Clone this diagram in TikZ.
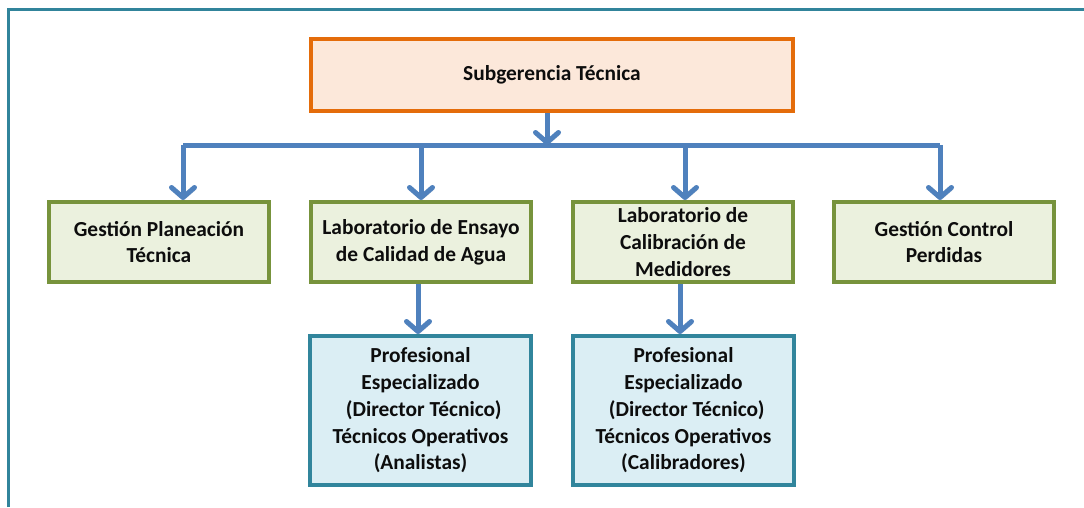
\documentclass[tikz,border=0pt]{standalone}
\usepackage{fontspec}
\setmainfont{Carlito}
\usetikzlibrary{arrows.meta}
\definecolor{frameC}{HTML}{31849B}
\definecolor{orangeC}{HTML}{E46C0A}
\definecolor{orangeF}{HTML}{FCE8DA}
\definecolor{greenC}{HTML}{77933C}
\definecolor{greenF}{HTML}{EBF1DE}
\definecolor{blueC}{HTML}{31859C}
\definecolor{blueF}{HTML}{DBEEF4}
\definecolor{arrowC}{HTML}{4F81BD}
\definecolor{txt}{HTML}{0D0D0D}
\tikzset{
  box/.style={draw=#1, line width=3pt, align=center, inner sep=0pt,
    font=\fontsize{21.4}{26.7}\selectfont\bfseries, text=txt},
  topbox/.style={box=orangeC, fill=orangeF, minimum width=483pt, minimum height=73pt},
  midbox/.style={box=greenC, fill=greenF, minimum width=221pt, minimum height=81pt},
  lowbox/.style={box=blueC, fill=blueF, minimum width=222pt, minimum height=150pt},
  innerline/.style={draw=#1, line width=1pt},
  arr/.style={draw=arrowC, line width=5pt,
    -{Straight Barb[length=10pt,width=23pt,round]},
    preaction={draw=black!60, opacity=0.18, transform canvas={shift={(1.5pt,-2pt)}}}},
  bar/.style={draw=arrowC, line width=5pt,
    preaction={draw=black!60, opacity=0.18, transform canvas={shift={(1.5pt,-2pt)}}}}
}
\begin{document}
\begin{tikzpicture}[x=1pt,y=-1pt]
\useasboundingbox (0,0) rectangle (1084,507);
\fill[white] (0,0) rectangle (1084,507);
\draw[frameC, line width=3pt] (8.5,507) -- (8.5,9.5) -- (1084,9.5);

\node[topbox] (top) at (552,75) {Subgerencia Técnica};
\node[midbox] (g1) at (159,242) {Gestión Planeación\\Técnica};
\node[midbox] (g2) at (421,242) {Laboratorio de Ensayo\\de Calidad de Agua};
\node[midbox] (g3) at (683,242) {Laboratorio de\\Calibración de\\Medidores};
\node[midbox] (g4) at (944,242) {Gestión Control\\Perdidas};
\node[lowbox] (p1) at (420.5,410.5) {Profesional\\Especializado\\\hspace*{0.3em}(Director Técnico)\\Técnicos Operativos\\(Analistas)};
\node[lowbox] (p2) at (683.5,410.5) {Profesional\\Especializado\\\hspace*{0.3em}(Director Técnico)\\Técnicos Operativos\\(Calibradores)};

\foreach \n/\c in {top/orangeC, g1/greenC, g2/greenC, g3/greenC, g4/greenC, p1/blueC, p2/blueC}
  \draw[innerline=\c] ([shift={(3.6pt,-3.6pt)}]\n.north west) rectangle ([shift={(-3.6pt,3.6pt)}]\n.south east);

\coordinate (bus) at (547,145);
\coordinate (t1) at ([xshift=24pt]g1.north);
\coordinate (t4) at ([xshift=-4pt]g4.north);

\draw[bar] (t1 |- bus) -- (t4 |- bus);
\draw[arr] ([xshift=-5pt]top.south) -- (bus);
\draw[arr] (t1 |- bus) -- (t1);
\draw[arr] (g2.north |- bus) -- (g2.north);
\draw[arr] ([xshift=2pt]g3.north |- bus) -- ([xshift=2pt]g3.north);
\draw[arr] (t4 |- bus) -- (t4);
\draw[arr] ([xshift=-3pt]g2.south) -- ([xshift=-2.5pt]p1.north);
\draw[arr] ([xshift=-3pt]g3.south) -- ([xshift=-3.5pt]p2.north);
\end{tikzpicture}
\end{document}
